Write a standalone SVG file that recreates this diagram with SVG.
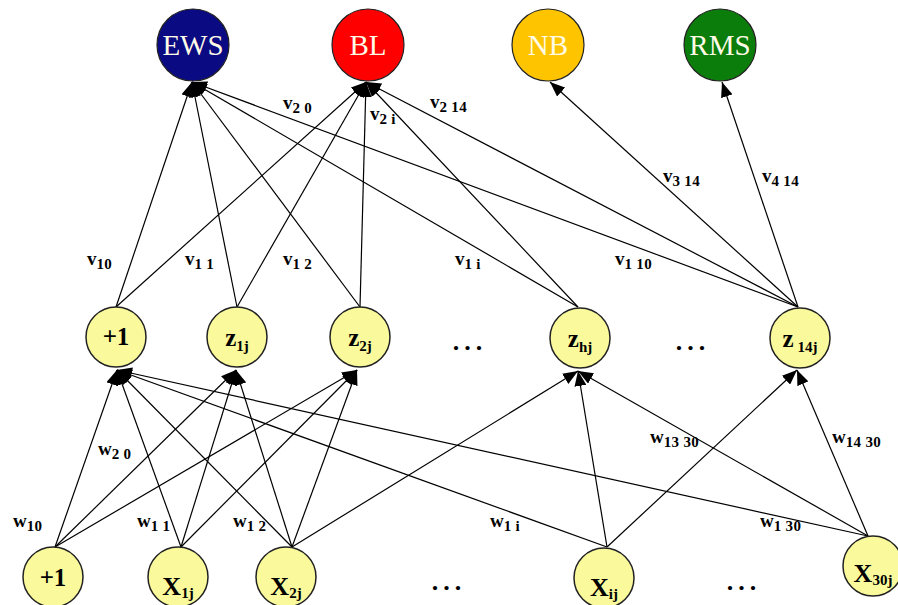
<svg xmlns="http://www.w3.org/2000/svg" width="898" height="605" viewBox="0 0 898 605">
  <style>
    .edge { stroke: #000; stroke-width: 1.2; fill: none; marker-end: url(#arrow); }
    .unit { fill: #fafa9c; stroke: #222; stroke-width: 1.5; }
    .out { stroke: #222; stroke-width: 1.2; }
    .outlbl { font-family: "Liberation Serif", "Times New Roman", serif; font-size: 29px; fill: #fffbe6; text-anchor: middle; }
    .ulbl { font-family: "Liberation Serif", "Times New Roman", serif; font-weight: bold; fill: #000; text-anchor: middle; }
    .wlbl { font-family: "Liberation Serif", "Times New Roman", serif; font-weight: bold; font-size: 19px; fill: #000; }
    .sub { font-size: 15px; letter-spacing: 0.3px; }
    .dots { font-family: "Liberation Serif", "Times New Roman", serif; font-weight: bold; font-size: 26px; letter-spacing: 5px; fill: #000; text-anchor: middle; }
  </style>
  <defs>
    <marker id="arrow" markerUnits="userSpaceOnUse" markerWidth="15" markerHeight="12" refX="15" refY="6" orient="auto">
      <path d="M0,0 L15,6 L0,12 z" fill="#000"/>
    </marker>
  </defs>
  <rect width="898" height="605" fill="#fff"/>

  <!-- weighted connections -->
  <g id="connectors">
    <!-- hidden layer to outputs -->
    <line class="edge" x1="116" y1="307" x2="192" y2="82"/>
    <line class="edge" x1="116" y1="307" x2="366" y2="82"/>
    <line class="edge" x1="237" y1="307" x2="192" y2="82"/>
    <line class="edge" x1="237" y1="307" x2="366" y2="82"/>
    <line class="edge" x1="360" y1="307" x2="192" y2="82"/>
    <line class="edge" x1="360" y1="307" x2="366" y2="82"/>
    <line class="edge" x1="578" y1="307" x2="192" y2="82"/>
    <line class="edge" x1="578" y1="307" x2="366" y2="82"/>
    <line class="edge" x1="798" y1="307" x2="192" y2="82"/>
    <line class="edge" x1="798" y1="307" x2="366" y2="82"/>
    <line class="edge" x1="798" y1="307" x2="550" y2="82"/>
    <line class="edge" x1="798" y1="307" x2="722" y2="82"/>
    <!-- inputs to hidden layer -->
    <line class="edge" x1="55" y1="547" x2="117" y2="370"/>
    <line class="edge" x1="55" y1="547" x2="236" y2="370"/>
    <line class="edge" x1="55" y1="547" x2="357" y2="370"/>
    <line class="edge" x1="181" y1="547" x2="117" y2="370"/>
    <line class="edge" x1="181" y1="547" x2="236" y2="370"/>
    <line class="edge" x1="181" y1="547" x2="357" y2="370"/>
    <line class="edge" x1="292" y1="547" x2="117" y2="370"/>
    <line class="edge" x1="292" y1="547" x2="236" y2="370"/>
    <line class="edge" x1="292" y1="547" x2="357" y2="370"/>
    <line class="edge" x1="292" y1="547" x2="578" y2="371"/>
    <line class="edge" x1="607" y1="547" x2="117" y2="370"/>
    <line class="edge" x1="607" y1="547" x2="578" y2="371"/>
    <line class="edge" x1="607" y1="547" x2="797" y2="370"/>
    <line class="edge" x1="868" y1="536" x2="117" y2="370"/>
    <line class="edge" x1="868" y1="536" x2="578" y2="371"/>
    <line class="edge" x1="868" y1="536" x2="797" y2="370"/>
  </g>

  <!-- weight labels -->
  <g id="weights">
    <text class="wlbl" x="283" y="109">v<tspan class="sub" dy="4">2 0</tspan></text>
    <text class="wlbl" x="370" y="120">v<tspan class="sub" dy="4">2 i</tspan></text>
    <text class="wlbl" x="430" y="108">v<tspan class="sub" dy="4">2 14</tspan></text>
    <text class="wlbl" x="663" y="182">v<tspan class="sub" dy="4">3 14</tspan></text>
    <text class="wlbl" x="762" y="182">v<tspan class="sub" dy="4">4 14</tspan></text>
    <text class="wlbl" x="87" y="265">v<tspan class="sub" dy="4">10</tspan></text>
    <text class="wlbl" x="185" y="265">v<tspan class="sub" dy="4">1 1</tspan></text>
    <text class="wlbl" x="283" y="265">v<tspan class="sub" dy="4">1 2</tspan></text>
    <text class="wlbl" x="455" y="265">v<tspan class="sub" dy="4">1 i</tspan></text>
    <text class="wlbl" x="615" y="265">v<tspan class="sub" dy="4">1 10</tspan></text>
    <text class="wlbl" x="98" y="455">w<tspan class="sub" dy="4">2 0</tspan></text>
    <text class="wlbl" x="13" y="527">w<tspan class="sub" dy="4">10</tspan></text>
    <text class="wlbl" x="137" y="527">w<tspan class="sub" dy="4">1 1</tspan></text>
    <text class="wlbl" x="233" y="527">w<tspan class="sub" dy="4">1 2</tspan></text>
    <text class="wlbl" x="490" y="527">w<tspan class="sub" dy="4">1 i</tspan></text>
    <text class="wlbl" x="760" y="527">w<tspan class="sub" dy="4">1 30</tspan></text>
    <text class="wlbl" x="650" y="443">w<tspan class="sub" dy="4">13 30</tspan></text>
    <text class="wlbl" x="832" y="443">w<tspan class="sub" dy="4">14 30</tspan></text>
  </g>

  <!-- output layer -->
  <g id="out-ews"><circle class="out" cx="193" cy="45" r="36" fill="#0a0a82"/><text class="outlbl" x="193" y="55">EWS</text></g>
  <g id="out-bl"><circle class="out" cx="368" cy="45" r="36" fill="#ff0000"/><text class="outlbl" x="368" y="55">BL</text></g>
  <g id="out-nb"><circle class="out" cx="548" cy="45" r="36" fill="#ffc400"/><text class="outlbl" x="548" y="55">NB</text></g>
  <g id="out-rms"><circle class="out" cx="720" cy="45" r="36" fill="#0b7d0b"/><text class="outlbl" x="720" y="55">RMS</text></g>

  <!-- hidden layer -->
  <g id="hid-bias"><circle class="unit" cx="116" cy="337" r="30"/><text class="ulbl" x="116" y="345" font-size="25">+1</text></g>
  <g id="hid-z1"><circle class="unit" cx="237" cy="337" r="30"/><text class="ulbl" x="237" y="346" font-size="25">z<tspan font-size="15" dy="5">1j</tspan></text></g>
  <g id="hid-z2"><circle class="unit" cx="360" cy="337" r="30"/><text class="ulbl" x="360" y="346" font-size="25">z<tspan font-size="15" dy="5">2j</tspan></text></g>
  <g id="hid-zh"><circle class="unit" cx="580" cy="338" r="30"/><text class="ulbl" x="580" y="347" font-size="25">z<tspan font-size="15" dy="5">hj</tspan></text></g>
  <g id="hid-z14"><circle class="unit" cx="800" cy="338" r="30"/><text class="ulbl" x="800" y="347" font-size="25">z<tspan font-size="15" dy="5"> 14j</tspan></text></g>
  <text class="dots" x="470" y="350">...</text>
  <text class="dots" x="693" y="350">...</text>

  <!-- input layer -->
  <g id="in-bias"><circle class="unit" cx="53" cy="577" r="30"/><text class="ulbl" x="53" y="586" font-size="25">+1</text></g>
  <g id="in-x1"><circle class="unit" cx="178" cy="577" r="30"/><text class="ulbl" x="178" y="595" font-size="26">X<tspan font-size="15" dy="3">1j</tspan></text></g>
  <g id="in-x2"><circle class="unit" cx="286" cy="577" r="30"/><text class="ulbl" x="286" y="595" font-size="26">X<tspan font-size="15" dy="3">2j</tspan></text></g>
  <g id="in-xi"><circle class="unit" cx="604" cy="578" r="30"/><text class="ulbl" x="604" y="596" font-size="26">X<tspan font-size="15" dy="3">ij</tspan></text></g>
  <g id="in-x30"><circle class="unit" cx="873" cy="566" r="30"/><text class="ulbl" x="873" y="582" font-size="26">X<tspan font-size="15" dy="3">30j</tspan></text></g>
  <text class="dots" x="449" y="590">...</text>
  <text class="dots" x="744" y="590">...</text>
</svg>
